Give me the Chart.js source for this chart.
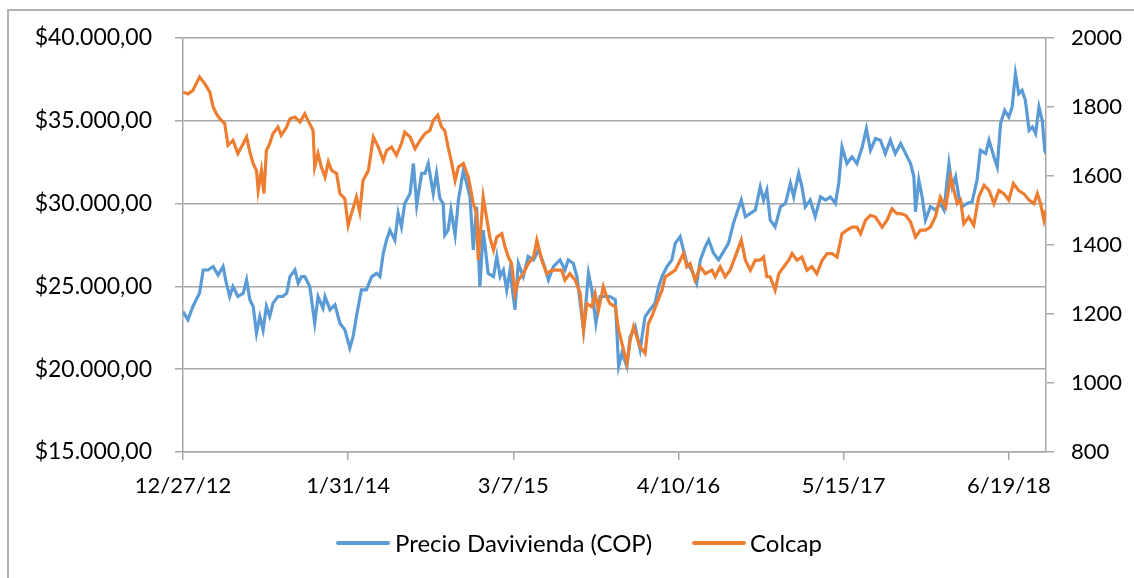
<!DOCTYPE html>
<html>
<head>
<meta charset="utf-8">
<script src="https://cdn.jsdelivr.net/npm/chart.js@4.4.1/dist/chart.umd.min.js"></script>
<style>
  html, body { margin: 0; padding: 0; background: #fff; }
  #wrap { position: relative; width: 1134px; height: 578px; overflow: hidden; }
  #frame { position: absolute; left: 7px; top: 9px; width: 1200px; height: 700px;
           border: 2px solid #b3b3b3; box-sizing: border-box; }
  #chart { position: absolute; left: 0; top: 0; }
  .legend { position: absolute; top: 528px; font: 24px Lato, sans-serif; color: #000;
            line-height: 30px; white-space: nowrap; }
  .swatch { position: absolute; top: 13px; width: 54px; height: 4px; border-radius: 2px; }
</style>
</head>
<body>
<div id="wrap">
  <div id="frame"></div>
  <canvas id="chart" width="1134" height="578"></canvas>
  <div class="legend" style="left:336px;"><span class="swatch" style="left:0;background:#5b9bd5"></span><span style="margin-left:59px">Precio Davivienda (COP)</span></div>
  <div class="legend" style="left:692px;"><span class="swatch" style="left:0;background:#ed7d31"></span><span style="margin-left:58px">Colcap</span></div>
</div>
<script>
// x = days since 12/27/12 (date axis with a 400 day major unit)
const xTickDays = [0, 400, 800, 1200, 1600, 2000];
const xTickLabels = ['12/27/12', '1/31/14', '3/7/15', '4/10/16', '5/15/17', '6/19/18'];
const xMaxDay = 2090;

const leftTickValues = [15000, 20000, 25000, 30000, 35000, 40000];
const leftTickLabels = ['$15.000,00', '$20.000,00', '$25.000,00', '$30.000,00', '$35.000,00', '$40.000,00'];
const rightTickValues = [800, 1000, 1200, 1400, 1600, 1800, 2000];

const daviviendaDays = [
  0, 12, 24, 32, 40, 49, 61, 73, 85, 97, 105, 113, 121, 133, 146, 154, 162, 170, 178, 186,
  194, 202, 210, 218, 230, 242, 251, 259, 271, 279, 287, 295, 307, 319, 327, 339,
  344, 356, 368, 380, 392, 404, 412, 420, 432, 444, 457, 469, 477, 485, 493, 501, 513, 521,
  529, 537, 550, 558, 566, 578, 586, 594, 606, 614, 622, 630, 634, 642, 649, 659, 667, 679, 687,
  695, 703, 711, 719, 727, 739, 752, 760, 768, 776, 784, 792, 804, 812, 824, 836, 849, 861,
  873, 885, 897, 913, 925, 933, 945, 954, 970, 982, 990, 1000, 1010, 1022, 1034,
  1047, 1055, 1063, 1075, 1083, 1095, 1107, 1119, 1131, 1143, 1152, 1160, 1172, 1184, 1192,
  1204, 1212, 1220, 1232, 1244, 1253, 1265, 1273, 1285, 1297, 1309, 1321, 1333, 1345, 1352,
  1362, 1374, 1386,
  1398, 1406, 1414, 1422, 1434, 1447, 1459, 1471, 1479, 1491, 1499, 1507, 1519, 1531, 1544,
  1556, 1568, 1580, 1588, 1596, 1608, 1620, 1632, 1645, 1655, 1665, 1677, 1689, 1701, 1713, 1725,
  1738, 1750, 1762, 1770, 1774, 1782, 1790, 1798, 1810, 1822, 1834, 1843, 1855, 1863, 1871,
  1879, 1887, 1899, 1911, 1923, 1931, 1944, 1952, 1964, 1972, 1980, 1990, 2000, 2008, 2016,
  2024, 2032, 2040, 2049, 2057, 2065, 2073, 2081, 2087, 2090
];
const daviviendaPrices = [
  23480, 22980, 23790, 24190, 24590, 25990, 25990, 26200, 25690, 26200, 25190, 24390, 24990, 24390, 24590, 25390, 24190, 23790, 22180, 23180,
  22380, 23790, 23180, 23990, 24390, 24390, 24590, 25590, 25990, 25190, 25590, 25590, 24990, 22780, 24390, 23690,
  24390, 23590, 23890, 22780, 22380, 21280, 21980, 23180, 24790, 24790, 25590, 25790, 25590, 27000, 27800, 28400, 27800, 29410,
  28600, 30010, 30610, 32420, 29910, 31820, 31820, 32420, 30610, 31820, 30310, 30010, 28100, 28400, 29610, 28100, 30210, 32020, 31220,
  30410, 27200, 29810, 24990, 28400, 25790, 25590, 26800, 25590, 25990, 24790, 25990, 23590, 26400, 25590, 26800, 26600, 27200,
  26400, 25390, 26200, 26600, 25990, 26600, 26400, 25590, 22380, 25790, 24790, 22780, 24390, 24390, 24390,
  24190, 20170, 20970, 20170, 21980, 22580, 21180, 23180, 23590, 23990, 24990, 25590, 26200, 26600, 27600,
  28000, 27200, 26400, 25990, 25190, 26600, 27400, 27800, 27000, 26600, 27100, 27600, 28810, 29710, 30210,
  29210, 29410, 29610,
  31010, 30210, 30810, 29010, 28600, 29810, 30010, 31220, 30410, 31820, 31010, 29810, 30210, 29210, 30410,
  30210, 30410, 30010, 31220, 33420, 32420, 32820, 32420, 33420, 34530, 33220, 33930, 33830, 33020, 33830, 33020,
  33630, 33020, 32420, 31620, 29510, 31420, 30410, 29010, 29810, 29610, 30010, 29610, 32420, 31010, 31620,
  30410, 29810, 30010, 30110, 31420, 33220, 33020, 33830, 32820, 32220, 34830, 35630, 35230, 35830, 37840,
  36640, 36840, 36240, 34430, 34630, 34230, 35830, 35030, 33220, 33020
];

const colcapDays = [
  0, 12, 24, 40, 53, 65, 73, 81, 89, 101, 109, 121, 133, 146, 154, 162, 170, 178, 182, 190,
  196, 202, 210, 218, 230, 238, 251, 259, 271, 283, 295, 307, 315, 319, 327, 335,
  344, 352, 360, 372, 380, 392, 400, 408, 420, 428, 436, 449, 461, 473, 485, 493, 505, 517,
  529, 537, 550, 562, 574, 586, 598, 606, 617, 626, 634, 642, 651, 659, 667, 679, 691,
  703, 711, 715, 727, 735, 743, 752, 760, 772, 780, 788, 796, 804, 812, 824, 836, 849, 857,
  869, 881, 893, 905, 917, 925, 937, 950, 962, 970, 978, 990, 998, 1006, 1018, 1026, 1034,
  1047, 1055, 1063, 1075, 1083, 1091, 1099, 1107, 1119, 1127, 1135, 1147, 1160, 1168, 1180,
  1192, 1204, 1212, 1220, 1228, 1240, 1253, 1265, 1281, 1289, 1301, 1313, 1325, 1337, 1352,
  1362, 1374, 1386,
  1398, 1406, 1414, 1422, 1434, 1443, 1455, 1467, 1475, 1487, 1499, 1511, 1523, 1535, 1548,
  1560, 1572, 1584, 1596, 1608, 1620, 1632, 1641, 1653, 1665, 1677, 1693, 1705, 1717, 1729,
  1738, 1750, 1762, 1774, 1786, 1798, 1810, 1822, 1834, 1847, 1859, 1867, 1875, 1883, 1891,
  1903, 1915, 1927, 1940, 1952, 1964, 1976, 1988, 2000, 2011, 2024, 2036, 2049, 2061, 2069,
  2077, 2085, 2090
];
const colcapValues = [
  1843, 1838, 1848, 1887, 1867, 1843, 1800, 1780, 1766, 1752, 1689, 1703, 1665, 1694, 1713, 1669, 1636, 1616, 1558, 1616,
  1549, 1674, 1694, 1723, 1742, 1718, 1742, 1766, 1771, 1756, 1780, 1751, 1732, 1626, 1665, 1626,
  1597, 1641, 1616, 1607, 1549, 1534, 1457, 1491, 1539, 1496, 1587, 1616, 1713, 1684, 1645, 1674, 1684, 1660,
  1694, 1727, 1713, 1679, 1703, 1723, 1732, 1761, 1776, 1742, 1732, 1684, 1636, 1587, 1626, 1636, 1597,
  1520, 1491, 1356, 1539, 1481, 1423, 1385, 1423, 1433, 1394, 1365, 1346, 1259, 1298, 1317, 1346, 1365, 1414,
  1356, 1317, 1327, 1327, 1327, 1298, 1317, 1298, 1259, 1153, 1230, 1221, 1259, 1211, 1279, 1250, 1230,
  1221, 1153, 1115, 1057, 1124, 1163, 1134, 1105, 1086, 1172, 1192, 1230, 1269, 1308, 1317,
  1327, 1356, 1375, 1337, 1346, 1298, 1337, 1317, 1327, 1308, 1337, 1308, 1327, 1365, 1414,
  1356, 1327, 1356,
  1356, 1365, 1308, 1308, 1269, 1317, 1337, 1356, 1375, 1356, 1365, 1327, 1337, 1317, 1356,
  1375, 1375, 1365, 1433, 1443, 1452, 1452, 1433, 1472, 1486, 1481, 1452, 1472, 1505, 1491,
  1491, 1486, 1467, 1423, 1443, 1443, 1452, 1481, 1539, 1510, 1597, 1558, 1520, 1530, 1462,
  1481, 1457, 1539, 1573, 1558, 1520, 1558, 1549, 1530, 1578, 1558, 1549, 1530, 1520, 1549,
  1520, 1472, 1501
];

const FONT = { family: 'Lato, sans-serif', size: 22 };
const GRID = '#a8a8a8';

function fixedTicks(values) {
  return scale => { scale.ticks = values.map(v => ({ value: v })); };
}

new Chart(document.getElementById('chart'), {
  type: 'line',
  data: {
    datasets: [
      {
        label: 'Precio Davivienda (COP)',
        data: daviviendaDays.map((d, i) => ({ x: d, y: daviviendaPrices[i] })),
        yAxisID: 'yLeft',
        borderColor: '#5b9bd5',
        borderWidth: 3.2,
        pointRadius: 0,
        order: 2,
      },
      {
        label: 'Colcap',
        data: colcapDays.map((d, i) => ({ x: d, y: colcapValues[i] })),
        yAxisID: 'yRight',
        borderColor: '#ed7d31',
        borderWidth: 3.2,
        pointRadius: 0,
        order: 1,
      },
    ],
  },
  options: {
    responsive: false,
    animation: false,
    layout: { padding: { top: 38, left: 0, right: 0, bottom: 0 } },
    plugins: { legend: { display: false }, tooltip: { enabled: false } },
    scales: {
      x: {
        type: 'linear',
        min: 0,
        max: xMaxDay,
        afterBuildTicks: fixedTicks(xTickDays),
        afterFit: s => { s.height = 126; },
        grid: { drawOnChartArea: false, color: GRID, lineWidth: 1.5, tickLength: 8 },
        border: { color: GRID, width: 1.5 },
        ticks: {
          autoSkip: false, maxRotation: 0, padding: 13, color: '#000', font: FONT,
          callback: v => xTickLabels[xTickDays.indexOf(v)],
        },
      },
      yLeft: {
        position: 'left',
        min: 15000,
        max: 40000,
        afterBuildTicks: fixedTicks(leftTickValues),
        afterFit: s => { s.width = 183; },
        grid: { color: GRID, lineWidth: 1.5, tickLength: 8 },
        border: { color: GRID, width: 1.5 },
        ticks: {
          padding: 23, color: '#000', font: { family: 'Lato, sans-serif', size: 23 },
          callback: v => leftTickLabels[leftTickValues.indexOf(v)],
        },
      },
      yRight: {
        position: 'right',
        min: 800,
        max: 2000,
        afterBuildTicks: fixedTicks(rightTickValues),
        afterFit: s => { s.width = 88; },
        grid: { drawOnChartArea: false, color: GRID, lineWidth: 1.5, tickLength: 8 },
        border: { color: GRID, width: 1.5 },
        ticks: { padding: 17, color: '#000', font: FONT, callback: v => String(v) },
      },
    },
  },
});
</script>
</body>
</html>
